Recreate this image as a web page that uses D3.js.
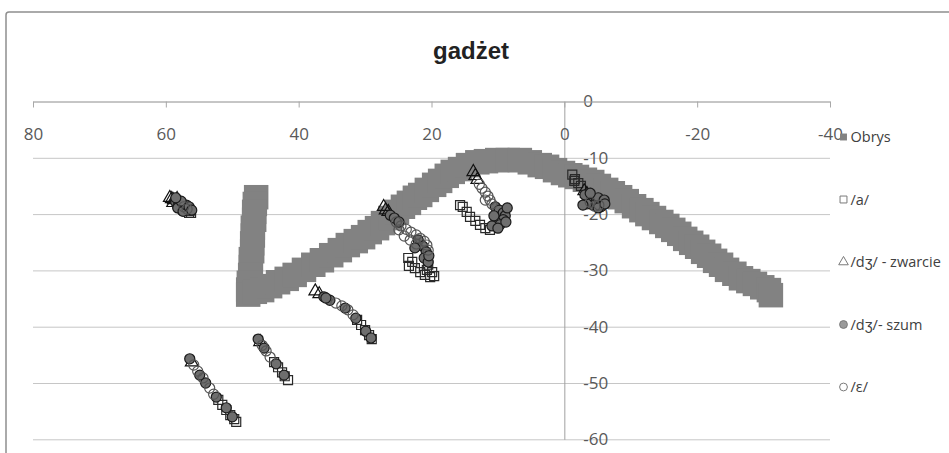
<!DOCTYPE html>
<html>
<head>
<meta charset="utf-8">
<script src="https://cdn.jsdelivr.net/npm/d3@7"></script>
<style>
  body { margin: 0; background: #fff; }
  .axis text { font-family: 'Open Sans', sans-serif; font-size: 17px; fill: #595959; }
  .legend text { font-family: 'Open Sans', sans-serif; font-size: 14.5px; fill: #404040; }
</style>
</head>
<body>
<div class="scatter-container"></div>
<script>
var chart = {};

// Data (x, y).
const obrys = [
  [46.4,-17.0],[46.6,-18.2],[46.7,-19.6],[46.7,-21.0],[46.9,-22.4],[46.9,-23.8],[47.0,-25.2],[47.0,-26.6],
  [47.2,-28.0],[47.2,-29.4],[47.3,-30.8],[47.5,-32.2],[47.6,-33.4],[47.6,-34.3],
  [46.6,-33.8],[45.5,-33.5],[44.3,-32.8],[43.1,-32.1],[41.8,-31.5],[40.6,-30.8],[39.2,-29.9],[37.8,-29.0],
  [36.5,-28.2],[35.1,-27.3],[33.8,-26.4],[32.6,-25.5],[31.4,-24.8],[30.3,-24.1],[29.3,-23.2],[28.2,-22.5],
  [27.3,-21.6],[26.2,-20.7],[25.2,-19.6],[24.3,-18.7],[23.4,-18.0],[22.5,-17.1],[21.7,-16.6],[20.7,-15.7],
  [19.6,-14.8],[18.7,-14.1],[17.7,-13.2],[16.8,-12.5],[15.7,-12.0],[14.5,-11.3],[13.1,-10.8],[11.8,-10.6],
  [10.1,-10.4],[8.5,-10.4],[6.7,-10.4],[5.2,-10.8],[3.7,-11.3],[2.6,-11.6],[1.4,-12.2],[0.2,-12.7],
  [-0.9,-13.1],[-1.9,-13.4],[-3.1,-13.9],[-4.2,-14.3],[-5.2,-15.0],[-6.3,-15.7],[-7.3,-16.3],[-8.4,-17.0],
  [-9.4,-17.7],[-10.5,-18.6],[-11.6,-19.3],[-12.5,-20.0],[-13.5,-20.7],[-14.6,-21.4],[-15.5,-22.1],[-16.4,-22.8],
  [-17.3,-23.5],[-18.2,-24.4],[-19.1,-25.1],[-20.0,-25.8],[-20.9,-26.7],[-21.8,-27.4],[-22.7,-28.3],[-23.6,-29.0],
  [-24.5,-29.9],[-25.6,-30.6],[-26.6,-31.4],[-27.7,-31.9],[-28.7,-32.4],[-29.8,-33.0],[-30.8,-33.5],[-31.1,-34.4]
];

const aVowel = [
  [56.7,-19.4],[56.4,-19.4],[56.2,-19.8],[56.5,-19.8],
  [23.5,-27.8],[22.9,-28.5],[23.4,-29.2],[22.5,-29.6],[21.7,-30.3],[21.0,-30.8],[20.2,-31.2],[19.9,-30.3],
  [20.5,-29.0],[19.6,-31.0],[20.7,-29.9],
  [15.7,-18.4],[15.3,-18.7],[14.7,-19.6],[14.2,-20.5],[13.4,-21.2],[12.7,-21.9],[11.9,-22.5],[11.2,-22.8],
  [-1.2,-13.0],[-1.5,-14.1],[-1.6,-13.8],[-2.1,-14.5],[-2.5,-15.0],
  [52.1,-53.0],[51.5,-53.9],[50.9,-54.8],[50.3,-55.7],[49.7,-56.4],[49.4,-56.9],
  [43.7,-46.3],[43.1,-47.2],[42.5,-48.1],[42.1,-48.8],[41.6,-49.5],
  [31.2,-38.8],[30.6,-39.7],[30.0,-40.6],[29.4,-41.5],[29.0,-42.2]
];

const zwarcie = [
  [59.1,-17.3],[58.8,-17.5],[58.9,-18.0],[59.4,-17.1],[58.3,-17.3],
  [27.2,-18.7],[26.9,-19.3],[26.5,-19.6],
  [13.7,-12.5],[13.4,-13.2],[13.1,-13.9],
  [-3.0,-15.9],[-3.4,-16.4],[-4.0,-16.8],
  [56.1,-46.3],[45.8,-42.7],[37.5,-33.7],[36.9,-34.2]
];

const szum = [
  [58.5,-17.9],[58.0,-18.2],[57.6,-18.6],[57.1,-19.1],[58.2,-18.7],[57.5,-19.4],
  [58.2,-18.9],[57.4,-19.5],[56.9,-18.4],[57.7,-17.7],[58.5,-17.1],[56.5,-18.7],[56.1,-19.3],
  [26.2,-20.2],[25.6,-20.7],[24.9,-21.4],[22.0,-24.6],[21.3,-25.7],[20.8,-26.7],[21.1,-27.8],[20.5,-28.5],
  [22.5,-26.0],[20.4,-27.4],
  [10.4,-18.7],[9.8,-19.3],[9.2,-19.8],[8.9,-20.3],[9.2,-21.0],[10.3,-21.4],[9.7,-21.9],[10.9,-22.1],
  [8.6,-18.9],[8.8,-21.4],[10.0,-22.5],[10.6,-20.3],
  [-3.6,-17.1],[-4.2,-17.3],[-4.8,-17.7],[-5.4,-18.0],[-5.1,-17.1],[-4.3,-18.4],[-3.4,-18.2],[-5.5,-18.7],
  [-3.1,-16.6],[-3.9,-16.3],[-6.0,-17.5],[-2.8,-18.4],[-5.1,-18.9],[-6.1,-18.2],
  [56.4,-45.7],[54.0,-50.0],[54.9,-48.6],[52.4,-52.5],[50.9,-54.4],[50.0,-56.0],
  [46.1,-42.2],[45.2,-43.8],[43.4,-46.6],[42.2,-48.6],
  [36.2,-34.7],[35.3,-35.3],[35.9,-34.9],[33.0,-36.7],[31.4,-38.5],[29.9,-40.8],[29.1,-42.0]
];

const epsilon = [
  [57.3,-18.7],[56.8,-19.1],
  [25.3,-21.4],[24.6,-22.1],[23.8,-22.7],[23.1,-23.2],[22.3,-23.7],[21.7,-24.3],[21.1,-24.8],[20.7,-25.5],
  [20.5,-26.4],[24.1,-23.9],[23.2,-24.6],[22.3,-25.3],[24.9,-22.8],
  [12.8,-14.7],[12.4,-15.4],[11.9,-16.1],[11.5,-16.8],[11.2,-17.5],[10.9,-18.2],[11.9,-17.5],
  [-3.9,-17.9],[-4.6,-18.6],[-5.2,-18.4],
  [55.8,-46.8],[55.2,-47.9],[54.4,-49.1],[53.4,-50.9],[52.8,-52.0],
  [45.5,-43.3],[44.9,-44.3],[44.3,-45.4],
  [34.4,-35.8],[33.5,-36.3],[32.6,-37.0],[31.8,-37.9]
];

const seriesNames = ['Obrys', '/a/', '/dʒ/ - zwarcie', '/dʒ/- szum', '/ε/'];
const xTicks = [80, 60, 40, 20, 0, -20, -40];
const yTicks = [0, -10, -20, -30, -40, -50, -60];
const chartTitle = 'gadżet';

chart.series = [
  { name: seriesNames[0], values: obrys,   symbol: d3.symbolSquare,   size: 600, fill: '#828282', stroke: 'none' },
  { name: seriesNames[1], values: aVowel,  symbol: d3.symbolSquare,   size: 81,  fill: 'none',    stroke: '#2a2a2a' },
  { name: seriesNames[2], values: zwarcie, symbol: d3.symbolTriangle, size: 70,  fill: 'none',    stroke: '#111' },
  { name: seriesNames[3], values: szum,    symbol: d3.symbolCircle,   size: 80,  fill: '#6e6e6e', stroke: '#1a1a1a' },
  { name: seriesNames[4], values: epsilon, symbol: d3.symbolCircle,   size: 80,  fill: 'none',    stroke: '#555' }
];

chart.ready = function() {
  // Dimensions.
  const margin = { top: 101.5, left: 33 };
  const width = 797;
  const height = 337.8;

  const svg = d3
    .select('.scatter-container')
    .append('svg')
    .attr('width', 949)
    .attr('height', 453);

  // Chart frame.
  svg.append('rect')
    .attr('x', 6).attr('y', 12)
    .attr('width', 980).attr('height', 480)
    .attr('rx', 3)
    .style('fill', 'none')
    .style('stroke', '#8f8f8f')
    .style('stroke-width', 1.5);

  // Title.
  svg.append('text')
    .attr('x', 471)
    .attr('y', 59)
    .attr('text-anchor', 'middle')
    .style('font-family', "'Liberation Sans', Arial, sans-serif")
    .style('font-weight', 'bold')
    .style('font-size', '24px')
    .style('fill', '#222')
    .text(chartTitle);

  const g = svg.append('g')
    .attr('transform', `translate(${margin.left}, ${margin.top})`);

  // Scales.
  const xScale = d3.scaleLinear().domain([80, -40]).range([0, width]);
  const yScale = d3.scaleLinear().domain([0, -60]).range([0, height]);

  // Gridlines.
  const grid = g.append('g')
    .attr('class', 'grid')
    .call(d3.axisRight(yScale).tickValues(yTicks).tickSize(width).tickFormat(''));
  grid.select('.domain').remove();
  grid.selectAll('line').style('stroke', '#c6c6c6');

  // Vertical axis at x = 0.
  const yAxisDraw = g.append('g')
    .attr('class', 'y axis')
    .attr('transform', `translate(${xScale(0)}, 0)`)
    .call(d3.axisRight(yScale).tickValues(yTicks).tickSize(0).tickPadding(19).tickFormat(d => String(d)));
  yAxisDraw.select('.domain').style('stroke', '#a0a0a0');

  // Horizontal axis at y = 0.
  const xAxisDraw = g.append('g')
    .attr('class', 'x axis')
    .call(d3.axisBottom(xScale).tickValues(xTicks).tickSizeInner(6).tickSizeOuter(0).tickPadding(20).tickFormat(d => String(d)));
  xAxisDraw.select('.domain').style('stroke', '#a8a8a8');
  xAxisDraw.selectAll('.tick line').style('stroke', '#a8a8a8');

  // Points.
  const plot = g.append('g').attr('class', 'points');
  chart.series.forEach(s => {
    const sym = d3.symbol().type(s.symbol).size(s.size);
    plot.append('g')
      .selectAll('path')
      .data(s.values)
      .enter()
      .append('path')
      .attr('transform', d => `translate(${xScale(d[0])}, ${yScale(d[1])})`)
      .attr('d', sym)
      .style('fill', s.fill)
      .style('stroke', s.stroke)
      .style('stroke-width', 1.2);
  });

  // Legend.
  const legend = svg.append('g').attr('class', 'legend');
  const item = legend.selectAll('.legend-item')
    .data(chart.series)
    .enter()
    .append('g')
    .attr('class', 'legend-item')
    .attr('transform', (d, i) => `translate(843.5, ${137 + i * 62.5})`);

  item.append('path')
    .attr('d', d => d3.symbol().type(d.symbol).size(d.symbol === d3.symbolTriangle ? 40 : 48)())
    .style('fill', d => d.fill === 'none' ? '#fff' : (d.stroke === 'none' ? d.fill : '#9a9a9a'))
    .style('stroke', d => d.stroke === 'none' ? 'none' : '#7a7a7a')
    .style('stroke-width', 1);

  item.append('text')
    .attr('x', 7)
    .attr('dy', '0.35em')
    .text(d => d.name);
};

chart.ready();
</script>
</body>
</html>
